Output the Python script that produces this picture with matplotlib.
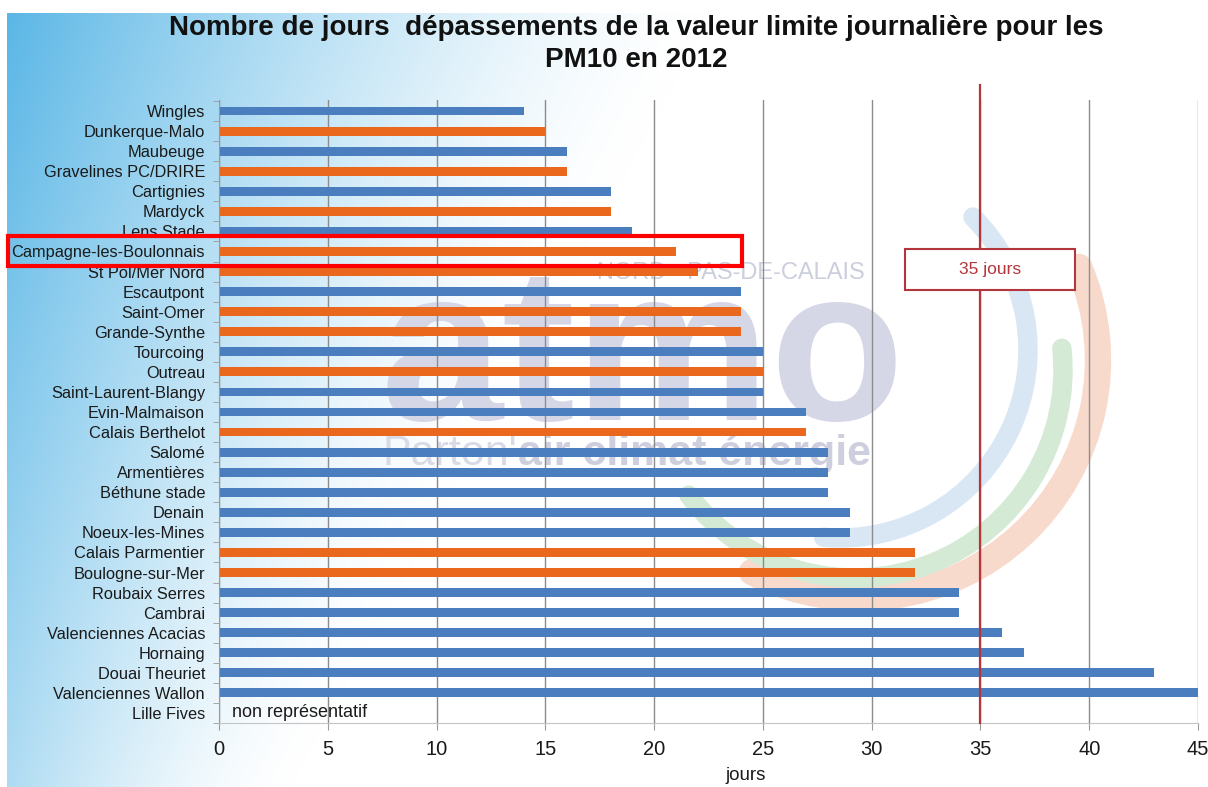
import numpy as np
import matplotlib.pyplot as plt
from matplotlib.patches import Arc, Rectangle

plt.rcParams["font.family"] = ["Liberation Sans", "DejaVu Sans"]

STATIONS = [
    "Wingles", "Dunkerque-Malo", "Maubeuge", "Gravelines PC/DRIRE", "Cartignies",
    "Mardyck", "Lens Stade", "Campagne-les-Boulonnais", "St Pol/Mer Nord",
    "Escautpont", "Saint-Omer", "Grande-Synthe", "Tourcoing", "Outreau",
    "Saint-Laurent-Blangy", "Evin-Malmaison", "Calais Berthelot", "Salomé",
    "Armentières", "Béthune stade", "Denain", "Noeux-les-Mines",
    "Calais Parmentier", "Boulogne-sur-Mer", "Roubaix Serres", "Cambrai",
    "Valenciennes Acacias", "Hornaing", "Douai Theuriet", "Valenciennes Wallon",
    "Lille Fives",
]
JOURS = [14, 15, 16, 16, 18, 18, 19, 21, 22, 24, 24, 24, 25, 25, 25, 27, 27,
         28, 28, 28, 29, 29, 32, 32, 34, 34, 36, 37, 43, 45, None]
# 1 = station du littoral (orange), 0 = autres stations (bleu)
LITTORAL = [0, 1, 0, 1, 0, 1, 0, 1, 1, 0, 1, 1, 0, 1, 0, 0, 1, 0, 0, 0, 0, 0,
            1, 1, 0, 0, 0, 0, 0, 0, 0]
SEUIL = 35
X_TICKS = [0, 5, 10, 15, 20, 25, 30, 35, 40, 45]
SURLIGNE = "Campagne-les-Boulonnais"

BLUE = "#4a7ebf"
ORANGE = "#e9681d"
RED = "#b3363c"

W, H = 1208, 787
fig = plt.figure(figsize=(W / 100, H / 100), dpi=100)

# fond en pixels : degrade bleu a gauche + logo en filigrane
bg = fig.add_axes([0, 0, 1, 1], zorder=0)
bg.set_xlim(0, W)
bg.set_ylim(H, 0)
bg.axis("off")
yy, xx = np.mgrid[0:H, 0:W]
reach = 720 - 430 * yy / H
t = np.clip(1 - xx / reach, 0, 1) ** 1.5 * (1 - 0.5 * yy / H)
blue = np.array([0.34, 0.71, 0.90])
img = 1 - t[..., None] * (1 - blue)
img[(xx < 7) | (yy < 13)] = 1
bg.imshow(img, extent=(0, W, H, 0), aspect="auto", interpolation="bilinear")

for (cx, cy), r, t1, t2, lw, col in [
    ((860, 360), 238, -23, 117, 19, "#f8dacd"),
    ((840, 350), 188, -45, 95, 14, "#d8e7f3"),
    ((855, 370), 208, -6, 143, 14, "#d4ead4"),
]:
    arc = Arc((cx, cy), 2 * r, 2 * r, theta1=t1, theta2=t2, lw=lw, color=col)
    arc.set_capstyle("round")
    bg.add_patch(arc)

bg.text(643, 420, "atmo", fontsize=158, fontweight="bold", color="#d5d7e7",
        ha="center", va="baseline")
bg.text(731, 273, "NORD - PAS-DE-CALAIS", fontsize=17, color="#cbcedc",
        ha="center", va="center")
t_part = bg.text(383, 465, "Parton'", fontsize=31, color="#d8dae6",
                 ha="left", va="baseline")
renderer = fig.canvas.get_renderer()
x_end = bg.transData.inverted().transform(
    t_part.get_window_extent(renderer).corners()[2])[0]
bg.text(x_end, 465, "air climat énergie", fontsize=31, fontweight="bold",
        color="#cdcfde", ha="left", va="baseline")

# graphique principal
ax = fig.add_axes([219 / W, 1 - 723 / H, (1198 - 219) / W, (723 - 100) / H],
                  zorder=2)
ax.patch.set_alpha(0)

pos = np.arange(len(STATIONS))
for i, (v, lit) in enumerate(zip(JOURS, LITTORAL)):
    if v is None:
        continue
    ax.barh(pos[i], v, height=0.44, color=ORANGE if lit else BLUE, zorder=2)

ax.set_xlim(0, 45)
ax.set_ylim(len(STATIONS) - 0.5, -0.55)
ax.set_xticks(X_TICKS)
ax.set_yticks(pos)
ax.set_yticklabels(STATIONS, fontsize=11.8, color="#1a1a1a")
ax.set_yticks(np.arange(len(STATIONS) + 1) - 0.5, minor=True)
ax.tick_params(axis="y", which="major", length=0, pad=10)
ax.tick_params(axis="y", which="minor", length=4, color="#9a9a9a")
ax.tick_params(axis="x", length=5, color="#9a9a9a", labelsize=14.5, pad=7,
               labelcolor="#1a1a1a")
ax.grid(axis="x", color="#8c8c8c", lw=1.0, zorder=1)
ax.set_axisbelow(True)
for side in ["top", "right"]:
    ax.spines[side].set_visible(False)
ax.spines["left"].set_color("#9a9a9a")
ax.spines["bottom"].set_color("#c4c4c4")

ax.set_xlabel("jours", fontsize=13.5, color="#1a1a1a")
ax.xaxis.set_label_coords(24.2 / 45, -0.07)

# valeur limite
ax.axvline(SEUIL, ymin=0, ymax=1.024, color=RED, lw=1.6, clip_on=False,
           zorder=3)
ax.add_patch(Rectangle((SEUIL - 3.47, 6.88), 7.8, 2.04, facecolor="white",
                       edgecolor=RED, lw=1.5, zorder=4))
ax.text(SEUIL + 0.43, 7.9, f"{SEUIL} jours", color=RED, fontsize=12.5,
        ha="center", va="center", zorder=5)

ax.text(0.6, STATIONS.index("Lille Fives"), "non représentatif", fontsize=13,
        ha="left", va="center", color="#1a1a1a")

fig.text(636 / W, 1 - 28 / H,
         "Nombre de jours  dépassements de la valeur limite journalière pour les",
         fontsize=20, fontweight="bold", ha="center", va="center",
         color="#111111")
fig.text(636 / W, 1 - 60 / H, "PM10 en 2012", fontsize=20,
         fontweight="bold", ha="center", va="center", color="#111111")

# station mise en evidence
row = STATIONS.index(SURLIGNE)
y_top = 111 + 20.07 * row - 15
fig.patches.append(Rectangle((8 / W, 1 - (y_top + 30) / H), 734 / W, 30 / H,
                             transform=fig.transFigure, fill=False,
                             ec="#ff0000", lw=3, zorder=10))

fig.savefig("out.png", dpi=100)
